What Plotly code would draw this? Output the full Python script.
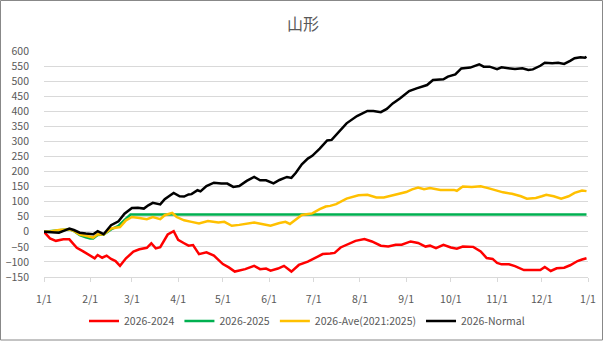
import pandas as pd
import plotly.graph_objects as go

# Cumulative difference series for Yamagata, read per day-of-year (0 = Jan 1, 2026)
start = pd.Timestamp("2026-01-01")

red_days = [0, 4, 8, 13, 17, 22, 26, 31, 34, 36, 39, 42, 45, 48, 51, 55, 60, 64, 69, 72, 75, 78, 81, 83, 87,
            90, 94, 97, 100, 104, 109, 114, 120, 124, 128, 131, 135, 141, 145, 149, 152, 157, 161, 166, 171,
            177, 181, 187, 192, 195, 199, 203, 209, 215, 220, 226, 231, 236, 240, 246, 251, 256, 259, 263,
            268, 273, 277, 281, 286, 288, 293, 297, 301, 304, 307, 312, 316, 322, 327, 333, 336, 340, 344,
            349, 353, 358, 361, 364]
red_vals = [0, -22, -30, -25, -25, -53, -64, -79, -88, -77, -86, -79, -90, -97, -113, -88, -66, -58, -53, -38,
            -55, -51, -25, -9, 2, -27, -38, -46, -44, -74, -68, -79, -107, -118, -132, -129, -124, -113, -124,
            -122, -129, -122, -113, -132, -110, -99, -90, -74, -72, -70, -52, -43, -30, -24, -32, -46, -49,
            -43, -43, -32, -37, -49, -46, -54, -43, -52, -56, -49, -49, -50, -65, -87, -90, -103, -108, -108,
            -114, -127, -127, -127, -117, -130, -121, -119, -111, -97, -92, -88]

green_days = [0, 5, 11, 17, 20, 24, 28, 31, 33, 36, 40, 45, 50, 55, 58, 364]
green_vals = [0, 2, 5, 8, 3, -11, -18, -22, -22, -11, -9, 8, 20, 42, 57, 57]

yellow_days = [0, 5, 11, 17, 20, 24, 28, 31, 33, 36, 40, 45, 51, 55, 59, 64, 69, 73, 78, 81, 86, 89, 94, 99,
               104, 110, 117, 121, 126, 131, 137, 141, 147, 152, 158, 162, 165, 169, 173, 176, 180, 185, 189,
               192, 196, 203, 211, 217, 223, 228, 232, 239, 243, 247, 251, 255, 259, 266, 275, 277, 281, 287,
               293, 298, 303, 308, 314, 320, 324, 330, 334, 337, 342, 347, 352, 356, 361, 364]
yellow_vals = [0, 2, 7, 8, 3, -9, -13, -16, -19, -8, -9, 11, 16, 38, 49, 46, 42, 49, 42, 55, 63, 49, 38, 33,
               28, 36, 31, 33, 20, 23, 29, 31, 25, 20, 29, 33, 26, 42, 56, 58, 61, 75, 84, 86, 92, 110, 121,
               123, 114, 114, 119, 128, 132, 141, 147, 141, 145, 139, 139, 136, 150, 149, 151, 145, 137, 131,
               126, 118, 110, 112, 118, 123, 118, 110, 118, 129, 137, 135]

black_days = [0, 5, 10, 14, 17, 20, 24, 28, 33, 36, 40, 45, 50, 54, 59, 63, 67, 70, 73, 78, 81, 85, 87, 91,
              94, 97, 99, 103, 105, 109, 114, 119, 123, 127, 131, 136, 141, 145, 149, 154, 158, 163, 166, 169,
              173, 177, 180, 185, 190, 193, 196, 203, 210, 217, 221, 226, 230, 234, 239, 245, 250, 257, 261,
              268, 271, 276, 280, 286, 292, 295, 299, 304, 307, 312, 316, 321, 325, 328, 333, 336, 341, 345,
              349, 353, 356, 360, 363, 364]
black_vals = [0, -2, -3, 5, 11, 6, -3, -6, -8, 2, -8, 22, 35, 60, 79, 80, 77, 88, 96, 91, 108, 122, 129, 118,
              117, 124, 125, 138, 134, 152, 163, 160, 160, 149, 152, 169, 182, 171, 171, 161, 172, 182, 179,
              196, 224, 243, 252, 276, 303, 305, 321, 360, 384, 401, 401, 397, 408, 426, 443, 467, 476, 487,
              504, 506, 515, 522, 542, 545, 556, 548, 548, 540, 546, 542, 540, 543, 537, 539, 551, 561, 559,
              561, 557, 567, 576, 579, 578, 581]

y_ticks = list(range(-150, 601, 50))


def to_dates(days):
    return [start + pd.Timedelta(days=d) for d in days]


series = [
    ("2026-2024", red_days, red_vals, "#FF0000"),
    ("2026-2025", green_days, green_vals, "#00B050"),
    ("2026-Ave(2021:2025)", yellow_days, yellow_vals, "#FFC000"),
    ("2026-Normal", black_days, black_vals, "#000000"),
]

fig = go.Figure()
for name, days, vals, color in series:
    fig.add_trace(go.Scatter(
        x=to_dates(days), y=vals, name=name, mode="lines",
        line=dict(color=color, width=2.5),
    ))

W, H = 606, 341
ml, mr, mt, mb = 44, 18, 51, 64
pw, ph = W - ml - mr, H - mt - mb

fig.update_layout(
    width=W, height=H,
    margin=dict(l=ml, r=mr, t=mt, b=mb, autoexpand=False),
    paper_bgcolor="white", plot_bgcolor="white",
    font=dict(family="Noto Sans CJK JP, sans-serif", size=10, color="#595959"),
    title=dict(text="山形", x=0.5, xanchor="center", y=1 - 24 / H, yanchor="middle",
               font=dict(size=16, color="#595959")),
    showlegend=True,
    legend=dict(orientation="h", x=0.5 - 9 / pw, xanchor="center", y=(0 - 44) / ph, yanchor="middle",
                font=dict(size=10.5, color="#595959"), itemwidth=30, traceorder="normal"),
    xaxis=dict(
        type="date", automargin=False,
        range=[start, start + pd.Timedelta(days=365)],
        tickmode="linear", tick0=start, dtick="M1", tickformat="%-m/%-d",
        showgrid=False, zeroline=False,
        showline=True, linecolor="#d9d9d9", linewidth=1,
        ticks="outside", ticklen=4, tickcolor="#d9d9d9",
        ticklabelstandoff=8,
        tickfont=dict(size=10.5),
    ),
    yaxis=dict(
        range=[-150, 600], tickvals=y_ticks, automargin=False,
        showgrid=True, gridcolor="#d9d9d9", gridwidth=1,
        zeroline=False, showline=False, ticks="",
        ticklabelstandoff=14,
        tickfont=dict(size=10.5),
    ),
    shapes=[dict(
        type="rect", xref="paper", yref="paper",
        x0=(0.5 - ml) / pw, x1=(602.5 - ml) / pw,
        y0=(H - mb - 340) / ph, y1=(H - mb - 0.5) / ph,
        line=dict(color="#888888", width=1), fillcolor="rgba(0,0,0,0)", layer="below",
    )],
)

fig.write_html("out.html")
